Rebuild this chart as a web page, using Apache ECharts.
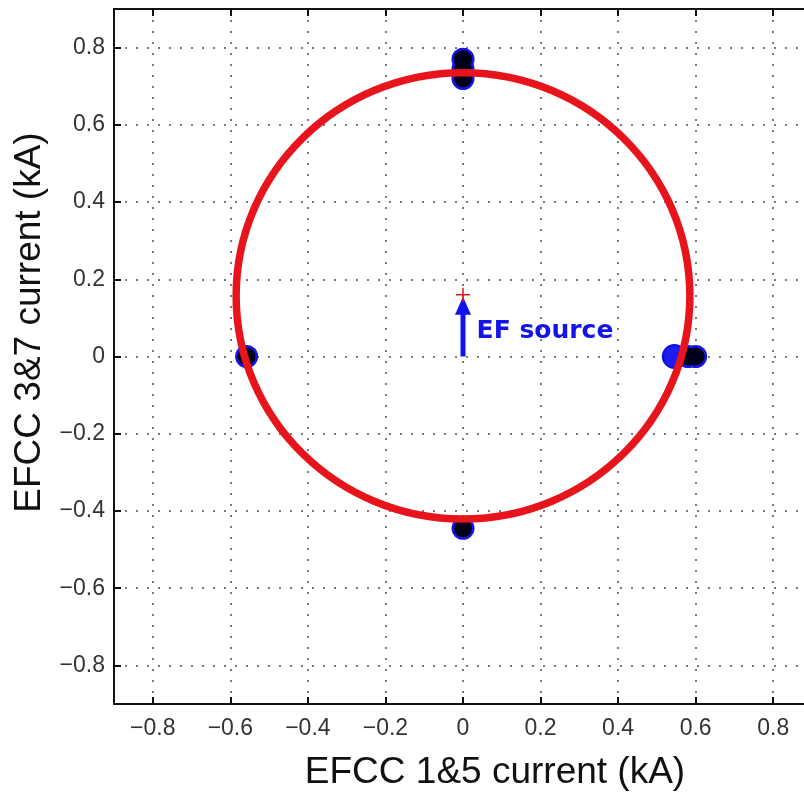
<!DOCTYPE html>
<html>
<head>
<meta charset="utf-8">
<script src="https://cdn.jsdelivr.net/npm/echarts@6/dist/echarts.min.js"></script>
<style>html,body{margin:0;padding:0;background:#fff;}#c{width:804px;height:793px;}</style>
</head>
<body>
<div id="c"></div>
<script>
// ---- data ----
const tickValues = [-0.8, -0.6, -0.4, -0.2, 0, 0.2, 0.4, 0.6, 0.8];
const axisMin = -0.9, axisMax = 0.9;
const xAxisName = 'EFCC 1&5 current (kA)';
const yAxisName = 'EFCC 3&7 current (kA)';
// measured operating points (x, y)
const darkPointsX = [0, 0, 0, -0.558, 0.58, 0.60, 0];
const darkPointsY = [0.77, 0.745, 0.72, 0, 0, 0, -0.445];
const bluePointsX = [0.545];
const bluePointsY = [0];
// fitted circle
const circleCenter = [0, 0.157];
const circleRadius = [0.585, 0.578];
// EF source marker and arrow
const sourcePoint = [0, 0.16];
const arrowFrom = [0, 0];
const arrowTo = [0, 0.155];
const sourceLabel = 'EF source';
const sourceLabelPos = [0.035, 0.032];

function fmt(v) {
  if (v === 0) return '0';
  const s = Math.abs(v).toFixed(1);
  return v < 0 ? '\u2212' + s : s;
}

const chart = echarts.init(document.getElementById('c'));
const labelStyle = {fontFamily: 'Liberation Sans', fontSize: 23, color: '#333'};
const axisLineStyle = {color: '#111', width: 2};
const gridLineStyle = {color: '#7a7a7a', width: 2, type: [2, 9]};

function mainAxis(extra) {
  return Object.assign({
    type: 'value', min: axisMin, max: axisMax,
    axisLine: {show: true, onZero: false, lineStyle: axisLineStyle},
    axisTick: {show: true, inside: true, length: 7, lineStyle: {color: '#111', width: 2}, customValues: tickValues},
    axisLabel: Object.assign({customValues: tickValues, formatter: fmt}, labelStyle),
    splitLine: {show: true, lineStyle: gridLineStyle}
  }, extra);
}
function frameAxis(pos) {
  return {
    type: 'value', min: axisMin, max: axisMax, position: pos,
    axisLine: {show: true, onZero: false, lineStyle: axisLineStyle},
    axisTick: {show: true, inside: true, length: 7, lineStyle: {color: '#111', width: 2}, customValues: tickValues},
    axisLabel: {show: false},
    splitLine: {show: false}
  };
}

const darkData = darkPointsX.map((x, i) => [x, darkPointsY[i]]);

const option = {
  animation: false,
  backgroundColor: '#fff',
  grid: {left: 114, width: 698, top: 9, height: 695, containLabel: false, outerBoundsMode: 'none'},
  xAxis: [
    mainAxis({position: 'bottom', name: xAxisName, nameLocation: 'middle', nameGap: 50,
      nameTextStyle: {fontFamily: 'Liberation Sans', fontSize: 37, color: '#111', padding: [0, 0, 0, 64]},
      axisLabel: Object.assign({customValues: tickValues, formatter: fmt, margin: 13}, labelStyle)}),
    frameAxis('top')
  ],
  yAxis: [
    mainAxis({position: 'left', name: yAxisName, nameLocation: 'middle', nameGap: 64,
      nameTextStyle: {fontFamily: 'Liberation Sans', fontSize: 37, color: '#111', padding: [0, 0, 0, 68]},
      axisLabel: Object.assign({customValues: tickValues, formatter: fmt, margin: 9}, labelStyle)}),
    frameAxis('right')
  ],
  series: [
    {
      type: 'scatter', z: 2, symbol: 'circle', symbolSize: 23,
      data: bluePointsX.map((x, i) => [x, bluePointsY[i]]),
      itemStyle: {color: '#1c1cf0', borderColor: '#1010d8', borderWidth: 2, opacity: 1}
    },
    {
      type: 'scatter', z: 3, symbol: 'circle', symbolSize: 23,
      data: darkData,
      itemStyle: {color: '#1515e6', opacity: 1}
    },
    {
      type: 'scatter', z: 4, symbol: 'circle', symbolSize: 18,
      data: darkData,
      itemStyle: {color: '#00001a', opacity: 1}
    },
    {
      type: 'custom', z: 5, clip: true,
      data: [[circleCenter[0], circleCenter[1], circleRadius[0], circleRadius[1]]],
      renderItem: function (params, api) {
        const c = api.coord([api.value(0), api.value(1)]);
        const s = api.size([api.value(2), api.value(3)]);
        return {
          type: 'ellipse',
          shape: {cx: c[0], cy: c[1], rx: s[0], ry: s[1]},
          style: {fill: 'none', stroke: '#e8141c', lineWidth: 7.5}
        };
      }
    },
    {
      type: 'custom', z: 6,
      data: [[arrowFrom[0], arrowFrom[1], arrowTo[0], arrowTo[1]]],
      renderItem: function (params, api) {
        const a = api.coord([api.value(0), api.value(1)]);
        const b = api.coord([api.value(2), api.value(3)]);
        const head = 18, hw = 8;
        return {
          type: 'group',
          children: [
            {type: 'line', shape: {x1: a[0], y1: a[1], x2: b[0], y2: b[1] + head - 2},
             style: {stroke: '#1212ee', lineWidth: 5}},
            {type: 'polygon', shape: {points: [[b[0], b[1]], [b[0] - hw, b[1] + head], [b[0] + hw, b[1] + head]]},
             style: {fill: '#1212ee'}}
          ]
        };
      }
    },
    {
      type: 'custom', z: 7,
      data: [[sourcePoint[0], sourcePoint[1]]],
      renderItem: function (params, api) {
        const p = api.coord([api.value(0), api.value(1)]);
        const r = 7;
        return {
          type: 'group',
          children: [
            {type: 'line', shape: {x1: p[0] - r, y1: p[1], x2: p[0] + r, y2: p[1]}, style: {stroke: '#e8141c', lineWidth: 1.5}},
            {type: 'line', shape: {x1: p[0], y1: p[1] - r, x2: p[0], y2: p[1] + r}, style: {stroke: '#e8141c', lineWidth: 1.5}}
          ]
        };
      }
    },
    {
      type: 'custom', z: 8,
      data: [[sourceLabelPos[0], sourceLabelPos[1], sourceLabel]],
      renderItem: function (params, api) {
        const p = api.coord([api.value(0), api.value(1)]);
        return {
          type: 'text',
          x: p[0], y: p[1],
          style: {text: sourceLabel, fill: '#1414e8', font: 'bold 25px "DejaVu Sans"',
                  textAlign: 'left', textVerticalAlign: 'bottom'}
        };
      }
    }
  ]
};
chart.setOption(option);
</script>
</body>
</html>
